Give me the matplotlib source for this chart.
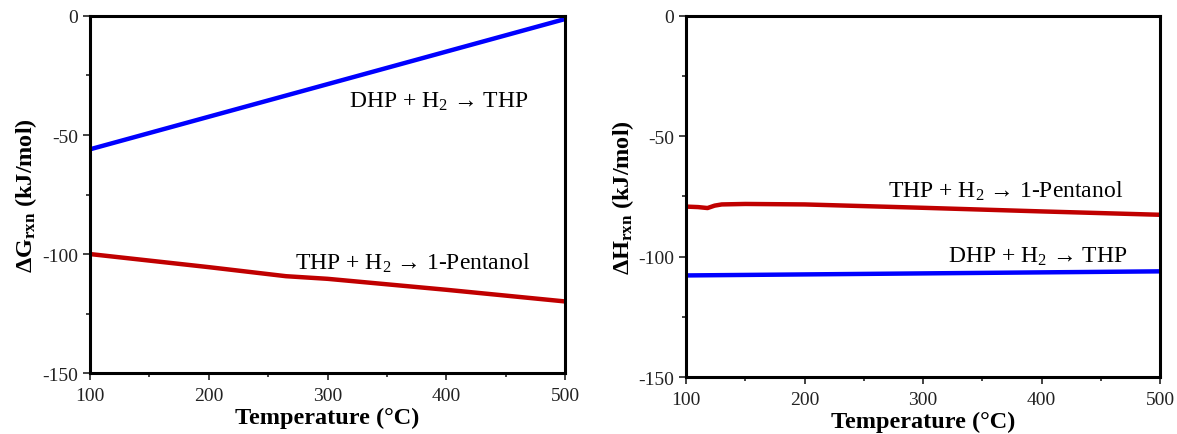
import matplotlib
matplotlib.use("Agg")
import matplotlib.pyplot as plt
from matplotlib.ticker import MultipleLocator

plt.rcParams['font.family'] = ['Liberation Serif', 'DejaVu Serif']
plt.rcParams['mathtext.fontset'] = 'custom'
plt.rcParams['mathtext.rm'] = 'Liberation Serif'
plt.rcParams['mathtext.it'] = 'Liberation Serif:italic'
plt.rcParams['mathtext.bf'] = 'Liberation Serif:bold'
plt.rcParams['axes.unicode_minus'] = False

# Gibbs energy (left)
g_T_dhp = [100, 500]
g_dhp = [-56, -1.3]
g_T_thp = [100, 200, 265, 300, 400, 500]
g_thp = [-100, -105.5, -109.3, -110.4, -115.0, -119.9]

# Enthalpy (right)
h_T_thp = [100, 110, 118, 124, 130, 150, 200, 300, 400, 500]
h_thp = [-79.2, -79.4, -79.8, -78.8, -78.3, -78.1, -78.3, -79.7, -81.2, -82.6]
h_T_dhp = [100, 500]
h_dhp = [-107.8, -106.1]

xticks = [100, 200, 300, 400, 500]
yticks = [0, -50, -100, -150]

fig = plt.figure(figsize=(11.77, 4.35), dpi=100)
ax1 = fig.add_axes([0.0765, 0.140, 0.4035, 0.821])
ax2 = fig.add_axes([0.583, 0.131, 0.4026, 0.830])

blue = '#0000FF'
red = '#C00000'

def style(ax):
    ax.set_xlim(100, 500)
    ax.set_ylim(-150, 0)
    ax.set_xticks(xticks)
    ax.set_yticks(yticks)
    ax.xaxis.set_minor_locator(MultipleLocator(50))
    ax.yaxis.set_minor_locator(MultipleLocator(25))
    for s in ax.spines.values():
        s.set_linewidth(2.2)
        s.set_color('black')
    ax.tick_params(which='major', direction='out', length=5, width=1.2, labelsize=14, colors='#222222', labelcolor='#222222')
    ax.tick_params(which='minor', direction='out', length=3, width=1.2, colors='#222222')
    ax.tick_params(axis='x', pad=5)
    ax.set_xlabel('Temperature (°C)', fontsize=17.5, fontweight='bold', labelpad=2)

ax1.plot(g_T_dhp, g_dhp, color=blue, lw=3.2, solid_capstyle='butt')
ax1.plot(g_T_thp, g_thp, color=red, lw=3.2, solid_capstyle='butt')
style(ax1)
ax1.set_ylabel(r'$\mathbf{\Delta G_{rxn}}$ (kJ/mol)', fontsize=17.5, fontweight='bold', labelpad=2)
ax1.text(318, -35.5, r'DHP + H$_2$ → THP', fontsize=17, va='center', ha='left')
ax1.text(273, -103.5, r'THP + H$_2$ → 1-Pentanol', fontsize=17, va='center', ha='left')

ax2.plot(h_T_thp, h_thp, color=red, lw=3.2, solid_capstyle='butt')
ax2.plot(h_T_dhp, h_dhp, color=blue, lw=3.2, solid_capstyle='butt')
style(ax2)
ax2.set_ylabel(r'$\mathbf{\Delta H_{rxn}}$ (kJ/mol)', fontsize=17.5, fontweight='bold', labelpad=2)
ax2.text(270, -72.5, r'THP + H$_2$ → 1-Pentanol', fontsize=17, va='center', ha='left')
ax2.text(321, -99.5, r'DHP + H$_2$ → THP', fontsize=17, va='center', ha='left')

fig.savefig('out.png', dpi=100)
